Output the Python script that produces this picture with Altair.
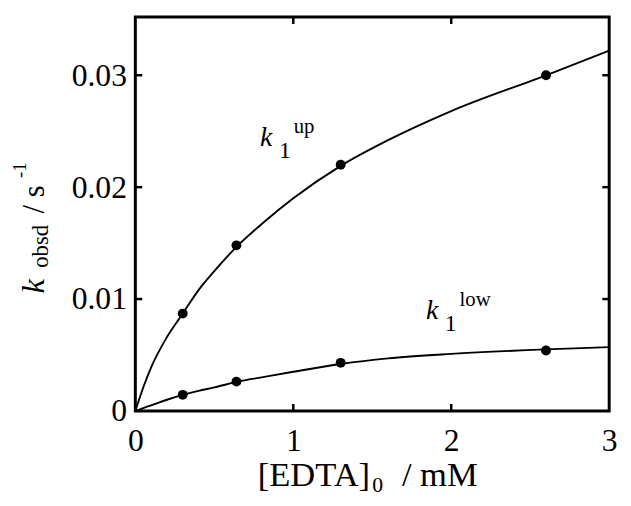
import altair as alt
import pandas as pd

# measured points
x_pts = [0.30, 0.64, 1.30, 2.60]
up_pts = [0.0087, 0.0148, 0.0220, 0.0300]
low_pts = [0.00144, 0.00262, 0.0043, 0.0054]

# fitted curves
curve_x = [0, 0.05, 0.1, 0.2, 0.3, 0.4, 0.5, 0.65, 0.8, 1.0, 1.3, 1.6, 2.0, 2.6, 3.0]
up_curve = [0, 0.0021, 0.0039, 0.0066, 0.0087, 0.0108, 0.0125, 0.0148, 0.0167,
            0.0190, 0.0219, 0.0242, 0.0268, 0.0300, 0.0322]
low_curve = [0, 0.00026, 0.0005, 0.0010, 0.00144, 0.0018, 0.0021, 0.00262, 0.0030,
             0.0035, 0.0042, 0.0047, 0.0051, 0.0055, 0.0057]

# tick values
x_ticks = [0, 1, 2, 3]
y_ticks = [0, 0.01, 0.02, 0.03]
x_inner_ticks = [1, 2]
y_inner_ticks = [0.01, 0.02, 0.03]

# curve annotations
ann_x = [0.79, 1.84]
ann_y = [0.02365, 0.0082]
ann_sup = ["up", "low"]

FONT = "Liberation Serif"
W, H = 480, 399

pts = pd.DataFrame({"x": x_pts * 2, "y": up_pts + low_pts,
                    "s": ["up"] * 4 + ["low"] * 4})
curves = pd.DataFrame({"x": curve_x * 2, "y": up_curve + low_curve,
                       "s": ["up"] * len(curve_x) + ["low"] * len(curve_x)})
ann = pd.DataFrame({"x": ann_x, "y": ann_y, "sup": ann_sup})
xt = pd.DataFrame({"x": x_inner_ticks})
yt = pd.DataFrame({"y": y_inner_ticks})
one = pd.DataFrame({"a": [0]})

xs = alt.Scale(domain=[0, 3], nice=False, zero=False)
ys = alt.Scale(domain=[0, 0.0352], nice=False, zero=False)

xaxis = alt.Axis(values=x_ticks, format="d", ticks=False, domain=False, grid=False,
                 labelFont=FONT, labelFontSize=32, labelColor="black",
                 labelPadding=15, labelFlush=False, labelOverlap=False, title=None)
yaxis = alt.Axis(values=y_ticks, ticks=False, domain=False, grid=False,
                 labelExpr="datum.value == 0 ? '0' : format(datum.value, '.2f')",
                 labelFont=FONT, labelFontSize=32, labelColor="black",
                 labelPadding=9, labelFlush=False, labelOverlap=False, title=None)

lines = alt.Chart(curves).mark_line(color="black", strokeWidth=1.9,
                                    interpolate="monotone").encode(
    x=alt.X("x:Q", scale=xs, axis=xaxis),
    y=alt.Y("y:Q", scale=ys, axis=yaxis),
    detail="s:N")

dots = alt.Chart(pts).mark_circle(color="black", opacity=1, size=100).encode(
    x=alt.X("x:Q", scale=xs), y=alt.Y("y:Q", scale=ys))

TW = 2.5
tb = alt.Chart(xt).mark_rule(color="black", strokeWidth=TW).encode(
    x=alt.X("x:Q", scale=xs), y=alt.value(H), y2=alt.value(H - 7))
tt = alt.Chart(xt).mark_rule(color="black", strokeWidth=TW).encode(
    x=alt.X("x:Q", scale=xs), y=alt.value(0), y2=alt.value(7))
tl = alt.Chart(yt).mark_rule(color="black", strokeWidth=TW).encode(
    y=alt.Y("y:Q", scale=ys), x=alt.value(0), x2=alt.value(7))
tr = alt.Chart(yt).mark_rule(color="black", strokeWidth=TW).encode(
    y=alt.Y("y:Q", scale=ys), x=alt.value(W), x2=alt.value(W - 7))

k_txt = alt.Chart(ann).mark_text(text="k", font=FONT, fontSize=28, fontStyle="italic",
                                 align="left", baseline="alphabetic", color="black").encode(
    x=alt.X("x:Q", scale=xs), y=alt.Y("y:Q", scale=ys))
one_txt = alt.Chart(ann).mark_text(text="1", font=FONT, fontSize=24, align="left",
                                   baseline="alphabetic", color="black", dx=19, dy=12).encode(
    x=alt.X("x:Q", scale=xs), y=alt.Y("y:Q", scale=ys))
sup_txt = alt.Chart(ann).mark_text(font=FONT, fontSize=21, align="left",
                                   baseline="alphabetic", color="black", dx=34, dy=-13).encode(
    x=alt.X("x:Q", scale=xs), y=alt.Y("y:Q", scale=ys), text="sup:N")


def txt(s, x, y, size, italic=False, angle=0):
    return alt.Chart(one).mark_text(
        text=s, font=FONT, fontSize=size, fontStyle="italic" if italic else "normal",
        angle=angle, align="left", baseline="alphabetic", color="black").encode(
        x=alt.value(x), y=alt.value(y))


titles = [
    txt("[EDTA]", 124, 475, 35),
    txt("0", 240, 481, 22),
    txt("/ mM", 270, 475, 35),
    txt("k", -93, 280, 33, italic=True, angle=270),
    txt("obsd", -88, 254, 23, angle=270),
    txt("/ s", -93, 199, 31, angle=270),
    txt("-1", -111, 163, 19, angle=270),
]

chart = alt.layer(lines, dots, tb, tt, tl, tr, k_txt, one_txt, sup_txt, *titles).properties(
    width=W, height=H,
    padding={"left": 129, "top": 6, "right": 14, "bottom": 85},
    autosize=alt.AutoSizeParams(type="none"),
    background="white",
).configure_view(stroke="black", strokeWidth=3)

chart.save("out.html", embed_options={"renderer": "svg", "actions": False})
